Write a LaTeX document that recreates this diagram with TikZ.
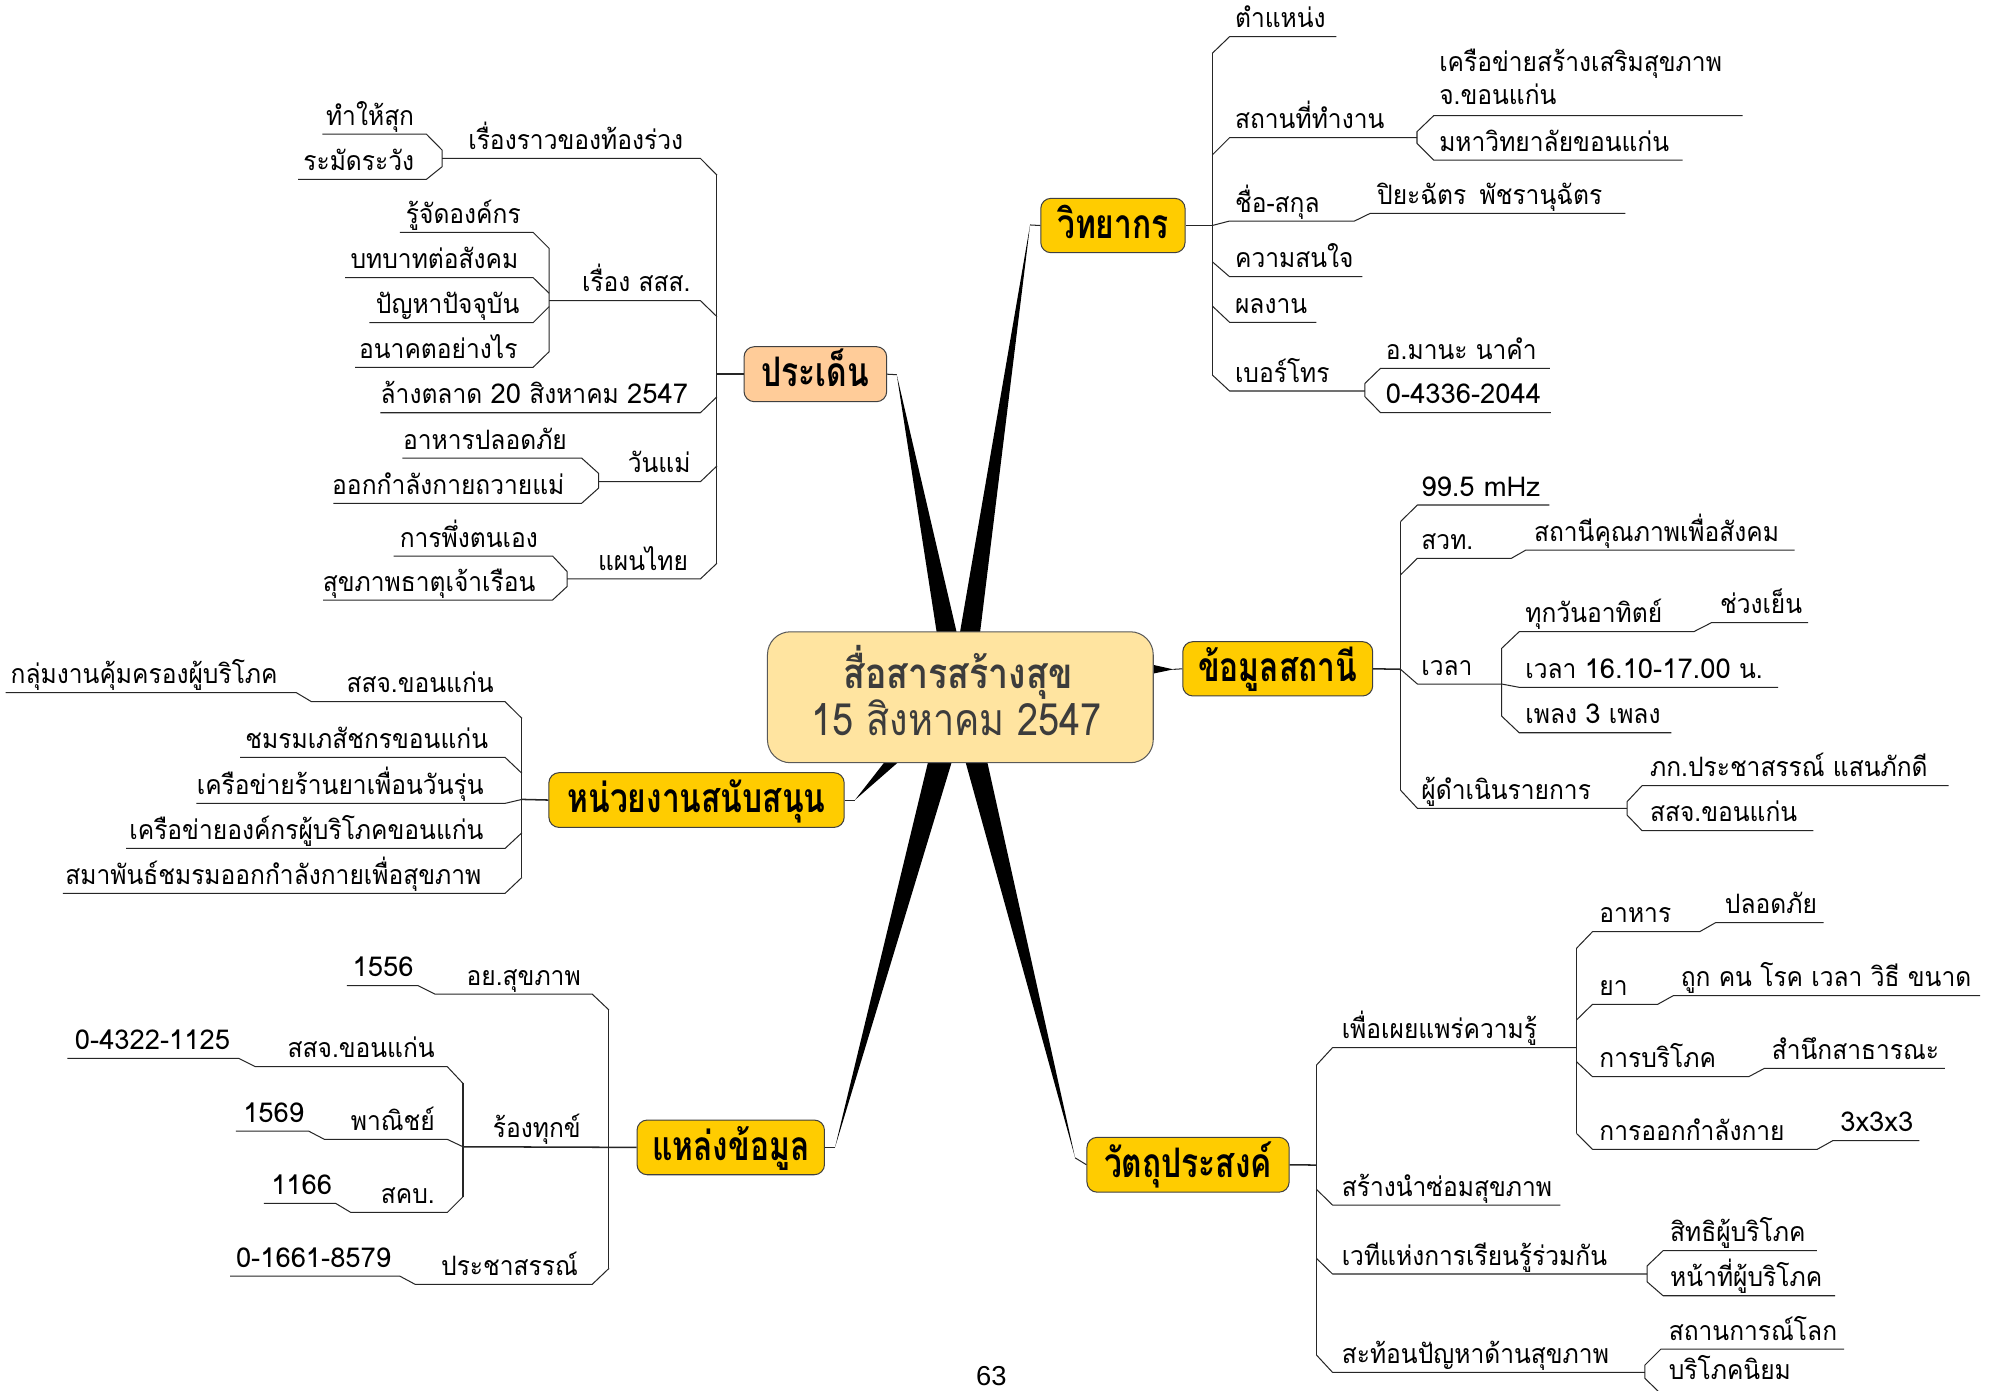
\documentclass[tikz,border=0pt]{standalone}
\usepackage{fontspec}
\newfontfamily\leaf[Script=Thai,FakeStretch=0.92]{Loma}
\newfontfamily\numff[Script=Thai]{Loma}
\newfontfamily\mainff[Script=Thai,FakeStretch=0.78]{Loma}
\newfontfamily\cenff[Script=Thai,FakeStretch=0.85]{Loma}
\newfontfamily\pagef{Liberation Sans}
\newcommand\lf{\leaf\fontsize{21}{24}\selectfont}
\newcommand\dg[1]{{\numff\fontsize{21.5}{24}\selectfont #1}}
\newcommand\mainf{\mainff\bfseries\fontsize{32}{36}\selectfont}
\newcommand\cenf{\cenff\fontsize{33}{38}\selectfont}
\newcommand\cenfb{\cenff\fontsize{35}{40}\selectfont}
\definecolor{gold}{HTML}{FFCC00}
\definecolor{peach}{HTML}{FFCC99}
\definecolor{cream}{HTML}{FFE4A0}
\definecolor{ctext}{HTML}{3C3C3C}
\tikzset{
  ln/.style={line width=0.8pt, draw=black!85, line join=round},
  ln2/.style={line width=1.2pt, draw=black!85},
  lfn/.style={font=\lf, inner sep=0pt, text=black},
  rt/.style={lfn, anchor=base west},
  lt/.style={lfn, anchor=base east},
  mbox/.style={draw=black!75, line width=0.8pt, rounded corners=8pt, fill=gold, font=\mainf,
    inner sep=0pt, text height=20pt, text depth=0pt},
  cbox/.style={draw=black!65, line width=0.8pt, rounded corners=18pt, fill=cream, inner sep=0pt},
  wedge/.style={fill=black, draw=none},
}
\newcommand\RT[4]{\node[rt] (#1) at (#2,{#3-7}) {#4};}
\newcommand\LT[4]{\node[lt] (#1) at (#2,{#3-7}) {#4};}
\begin{document}
\begin{tikzpicture}[x=1pt,y=-1pt]
\useasboundingbox (0,0) rectangle (1568,1093);
\fill[white] (0,0) rectangle (1568,1093);

% ---------- wedges ----------
\coordinate (tP) at (704.8,294.5);
\coordinate (tW) at (809.6,176.8);
\coordinate (tK) at (922.2,526.1);
\coordinate (tH) at (671.9,628.8);
\coordinate (tS) at (656.3,901.8);
\coordinate (tV) at (845,910);
\fill[wedge] (736.2,497) -- (751.9,497) -- (tP) -- cycle;
\fill[wedge] (754.5,497) -- (770.3,497) -- (tW) -- cycle;
\fill[wedge] (906,522.5) -- (906,529.5) -- (tK) -- cycle;
\fill[wedge] (695.2,599) -- (706,599) -- (tH) -- cycle;
\fill[wedge] (729.4,599) -- (748,599) -- (tS) -- cycle;
\fill[wedge] (758.9,599) -- (776,599) -- (tV) -- cycle;

% ---------- boxes ----------
\node[cbox, minimum width=303.2pt, minimum height=102.9pt] (C) at (754.8,548) {};
\node[anchor=base, font=\cenf\bfseries, text=ctext, inner sep=0pt] (C1) at (753,541) {สื่อสารสร้างสุข};
\node[anchor=base, font=\cenfb, text=ctext, inner sep=0pt] (C2) at (752,577.7) {15 สิงหาคม 2547};

\node[mbox, fill=peach, minimum width=112.1pt, minimum height=43.2pt] (P) at (640.85,294.1) {ประเด็น};
\node[mbox, minimum width=113.4pt, minimum height=42.7pt] (W) at (874.7,177.25) {วิทยากร};
\node[mbox, minimum width=149.3pt, minimum height=42.7pt] (K) at (1004.25,525.65) {ข้อมูลสถานี};
\node[mbox, minimum width=232.1pt, minimum height=43pt] (H) at (547.45,628.8) {หน่วยงานสนับสนุน};
\node[mbox, minimum width=147.3pt, minimum height=43pt] (S) at (574.35,901.8) {แหล่งข้อมูล};
\node[mbox, minimum width=158.9pt, minimum height=43.1pt] (V) at (933.75,915.45) {วัตถุประสงค์};

\draw[ln] (P.east) -- (tP);
\draw[ln] (W.west) -- (tW);
\draw[ln] (K.west) -- (tK);
\draw[ln] (H.east) -- (tH);
\draw[ln] (S.east) -- (tS);
\draw[ln] (V.west) -- (tV);

% ---------- ประเด็น ----------
\draw[ln2] (P.west) -- (563.5,294.1);
\draw[ln] (563.5,137.6) -- (563.5,442.7);
\draw[ln] (347.4,124.5) -- (550.5,124.5) -- (563.5,137.6);
\LT{p1}{537.1}{124.5}{เรื่องราวของท้องร่วง}
\draw[ln] (253.3,105.5) -- (335.2,105.5) -- (347.4,117.9) -- (347.4,131.1) -- (335.2,140.9) -- (234.3,140.9);
\LT{p1a}{325.7}{105.5}{ทำให้สุก}
\LT{p1b}{325.7}{140.9}{ระมัดระวัง}
\draw[ln] (431.6,236.3) -- (550.5,236.3) -- (563.5,248.9);
\LT{p2}{542.9}{236.3}{เรื่อง สสส.}
\draw[ln] (314.3,182.6) -- (419,182.6) -- (431.6,195.2) -- (431.6,276.4) -- (419,288.7) -- (279.2,288.7);
\draw[ln] (271.2,218.2) -- (419,218.2) -- (431.6,230.5);
\draw[ln] (290.3,253.6) -- (419,253.6) -- (431.6,241);
\LT{p2a}{409.5}{182.6}{รู้จัดองค์กร}
\LT{p2b}{407.6}{218.2}{บทบาทต่อสังคม}
\LT{p2c}{408.4}{253.6}{ปัญหาปัจจุบัน}
\LT{p2d}{406.9}{288.7}{อนาคตอย่างไร}
\draw[ln] (299,324.4) -- (550.5,324.4) -- (563.5,311.8);
\LT{p3}{541}{324.4}{ล้างตลาด \dg{20} สิงหาคม \dg{2547}}
\draw[ln] (470.5,378.6) -- (550.5,378.6) -- (563.5,366.2);
\LT{p4}{542.9}{378.6}{วันแม่}
\draw[ln] (316.2,360) -- (457.1,360) -- (470.5,372.1) -- (470.5,383.6) -- (457.1,395.6) -- (262.1,395.6);
\LT{p4a}{445.7}{360}{อาหารปลอดภัย}
\LT{p4b}{443.8}{395.6}{ออกกำลังกายถวายแม่}
\draw[ln] (445.7,455) -- (550.5,455) -- (563.5,442.7);
\LT{p5}{541}{455}{แผนไทย}
\draw[ln] (309.3,437) -- (434.3,437) -- (445.7,449.2) -- (445.7,461) -- (434.3,471.6) -- (254,471.6);
\LT{p5a}{422.9}{437}{การพึ่งตนเอง}
\LT{p5b}{421}{471.6}{สุขภาพธาตุเจ้าเรือน}

% ---------- วิทยากร ----------
\draw[ln2] (W.east) -- (952.8,177.25);
\draw[ln] (952.8,41.9) -- (952.8,294.7);
\draw[ln] (952.8,41.9) -- (966.4,28.8) -- (1050.3,28.8);
\RT{w1}{970.5}{28.8}{ตำแหน่ง}
\draw[ln] (952.8,121.8) -- (966.4,108.2) -- (1113.7,108.2);
\RT{w2}{970.5}{108.2}{สถานที่ทำงาน}
\draw[ln] (1369.6,90.9) -- (1126.8,90.9) -- (1113.7,103.5) -- (1113.7,112.7) -- (1126.8,125.8) -- (1322.5,125.8);
\node[rt] (w2a) at (1131,56.3) {เครือข่ายสร้างเสริมสุขภาพ};
\node[rt] (w2a2) at (1131,82.5) {จ.ขอนแก่น};
\RT{w2b}{1131}{125.8}{มหาวิทยาลัยขอนแก่น}
\draw[ln] (952.8,177.25) -- (966.4,173.7) -- (1064.6,173.7) -- (1076.9,167.7) -- (1277.5,167.7);
\RT{w3}{970.5}{173.7}{ชื่อ-สกุล}
\RT{w3a}{1082.2}{167.7}{ปิยะฉัตร\hspace{0.5em}พัชรานุฉัตร}
\draw[ln] (952.8,205.7) -- (966.4,217.5) -- (1070.7,217.5);
\RT{w4}{970.5}{217.5}{ความสนใจ}
\draw[ln] (952.8,240.5) -- (966.4,253.3) -- (1034.7,253.3);
\RT{w5}{970.5}{253.3}{ผลงาน}
\draw[ln] (952.8,294.7) -- (966.4,307.3) -- (1072.8,307.3);
\RT{w6}{970.5}{307.3}{เบอร์โทร}
\draw[ln] (1218.1,289.5) -- (1085,289.5) -- (1072.8,301.3) -- (1072.8,311.8) -- (1085,324.3) -- (1218.9,324.3);
\RT{w6a}{1089.1}{289.5}{อ.มานะ นาคำ}
\RT{w6b}{1089.1}{324.3}{\dg{0-4336-2044}}

% ---------- ข้อมูลสถานี ----------
\draw[ln2] (K.east) -- (1100.7,526);
\draw[ln] (1100.7,410) -- (1100.7,621);
\draw[ln] (1100.7,410) -- (1114,396.9) -- (1217.8,396.9);
\RT{k1}{1117}{396.9}{\dg{99.5 mHz}}
\draw[ln] (1100.7,451.9) -- (1114,438.8) -- (1187.9,438.8) -- (1199.3,432.3) -- (1410.4,432.3);
\RT{k2}{1117}{438.8}{สวท.}
\RT{k2a}{1205.5}{432.3}{สถานีคุณภาพเพื่อสังคม}
\draw[ln] (1100.7,526) -- (1114,537.6) -- (1180.2,537.6);
\RT{k3}{1117}{537.6}{เวลา}
\draw[ln] (1421.2,489.4) -- (1345.1,489.4) -- (1331.2,496.5) -- (1194,496.5) -- (1180.2,509.6) -- (1180.2,562.8) -- (1194,575.9) -- (1313.7,575.9);
\draw[ln] (1180.2,537.6) -- (1194,540.2) -- (1397.5,540.2);
\RT{k3a}{1198.7}{496.5}{ทุกวันอาทิตย์}
\RT{k3a1}{1351.7}{489.4}{ช่วงเย็น}
\RT{k3b}{1198.7}{540.2}{เวลา \dg{16.10-17.00} น.}
\RT{k3c}{1198.7}{575.9}{เพลง \dg{3} เพลง}
\draw[ln] (1100.7,621) -- (1114,635.3) -- (1278.8,635.3);
\RT{k4}{1117}{635.3}{ผู้ดำเนินรายการ}
\draw[ln] (1531.6,617.5) -- (1290.6,617.5) -- (1278.8,630.1) -- (1278.8,640.6) -- (1290.6,652.9) -- (1425.2,652.9);
\RT{k4a}{1296.7}{617.5}{ภก.ประชาสรรณ์ แสนภักดี}
\RT{k4b}{1296.7}{652.9}{สสจ.ขอนแก่น}

% ---------- หน่วยงานสนับสนุน ----------
\draw[ln2] (H.west) -- (410.2,628.3);
\draw[ln] (410.2,564.6) -- (410.2,689.6);
\draw[ln] (4.4,544.4) -- (232.9,544.4) -- (244.8,551.5) -- (397,551.5) -- (410.2,564.6);
\LT{h1}{388.2}{551.5}{สสจ.ขอนแก่น}
\LT{h1a}{218.4}{544.4}{กลุ่มงานคุ้มครองผู้บริโภค}
\draw[ln] (188.8,595.3) -- (397,595.3) -- (410.2,607.8);
\LT{h2}{383.8}{595.3}{ชมรมเภสัชกรขอนแก่น}
\draw[ln] (154.4,631.4) -- (397,631.4) -- (410.2,628.3);
\LT{h3}{380.2}{631.4}{เครือข่ายร้านยาเพื่อนวันรุ่น}
\draw[ln] (99.2,666.8) -- (397,666.8) -- (410.2,654.5);
\LT{h4}{380.2}{666.8}{เครือข่ายองค์กรผู้บริโภคขอนแก่น}
\draw[ln] (49.4,702.1) -- (397,702.1) -- (410.2,689.6);
\LT{h5}{378.5}{702.1}{สมาพันธ์ชมรมออกกำลังกายเพื่อสุขภาพ}

% ---------- แหล่งข้อมูล ----------
\draw[ln2] (S.west) -- (363.9,901.3);
\draw[ln] (478.6,793.8) -- (478.6,996.9);
\draw[ln] (272.6,774.7) -- (328.6,774.7) -- (341.9,781.3) -- (465.4,781.3) -- (478.6,793.8);
\LT{s1}{456.6}{781.3}{อย.สุขภาพ}
\RT{s1a}{277}{774.7}{\dg{1556}}
\LT{s2}{456.6}{901.3}{ร้องทุกข์}
\draw[ln] (363.9,851.5) -- (363.9,940.6);
\draw[ln] (52.9,831.8) -- (187.5,831.8) -- (200.7,838.4) -- (351.6,838.4) -- (363.9,851.5);
\LT{s2a}{341.9}{838.4}{สสจ.ขอนแก่น}
\RT{s2a1}{58.7}{831.8}{\dg{0-4322-1125}}
\draw[ln] (185.3,889) -- (242.6,889) -- (255,895.5) -- (351.6,895.5) -- (363.9,901.3);
\LT{s2b}{341.9}{895.5}{พาณิชย์}
\RT{s2b1}{191}{889}{\dg{1569}}
\draw[ln] (207.3,945.8) -- (263.8,945.8) -- (275.7,952.9) -- (351.6,952.9) -- (363.9,940.6);
\LT{s2c}{341.9}{952.9}{สคบ.}
\RT{s2c1}{213}{945.8}{\dg{1166}}
\draw[ln] (180.9,1002.9) -- (314.1,1002.9) -- (326.4,1009.5) -- (465.4,1009.5) -- (478.6,996.9);
\LT{s3}{454.4}{1009.5}{ประชาสรรณ์}
\RT{s3a}{185.3}{1002.9}{\dg{0-1661-8579}}

% ---------- วัตถุประสงค์ ----------
\draw[ln2] (V.east) -- (1034.7,915.7);
\draw[ln] (1034.7,837.1) -- (1034.7,1065);
\draw[ln] (1034.7,837.1) -- (1047.3,823.4) -- (1239,823.4);
\RT{v1}{1054.4}{823.4}{เพื่อเผยแพร่ความรู้}
\draw[ln] (1239,745.4) -- (1239,890.8);
\draw[ln] (1239,745.4) -- (1251.6,732.3) -- (1335.8,732.3) -- (1348.3,725.2) -- (1433.2,725.2);
\RT{v1a}{1256.9}{732.3}{อาหาร}
\RT{v1a1}{1355.5}{725.2}{ปลอดภัย}
\draw[ln] (1239,801.7) -- (1251.6,789.4) -- (1302.8,789.4) -- (1315,782.6) -- (1556.2,782.6);
\RT{v1b}{1256.9}{789.4}{ยา}
\RT{v1b1}{1320.8}{782.6}{ถูก คน โรค เวลา วิธี ขนาด}
\draw[ln] (1239,834.4) -- (1251.6,846.2) -- (1374.5,846.2) -- (1386.7,839.7) -- (1528.6,839.7);
\RT{v1c}{1256.9}{846.2}{การบริโภค}
\RT{v1c1}{1392.4}{839.7}{สำนึกสาธารณะ}
\draw[ln] (1239,890.8) -- (1251.6,903.3) -- (1428.3,903.3) -- (1440.5,896.5) -- (1508.5,896.5);
\RT{v1d}{1256.9}{903.3}{การออกกำลังกาย}
\RT{v1d1}{1446.2}{896.5}{\dg{3x3x3}}
\draw[ln] (1034.7,934.8) -- (1047.3,947.1) -- (1226.4,947.1);
\RT{v2}{1054.4}{947.1}{สร้างนำซ่อมสุขภาพ}
\draw[ln] (1034.7,989) -- (1047.3,1001.3) -- (1294.5,1001.3);
\RT{v3}{1054.4}{1001.3}{เวทีแห่งการเรียนรู้ร่วมกัน}
\draw[ln] (1427.9,983) -- (1307.1,983) -- (1294.5,995) -- (1294.5,1007.4) -- (1307.1,1018.4) -- (1442.3,1018.4);
\RT{v3a}{1312.5}{983}{สิทธิผู้บริโภค}
\RT{v3b}{1312.5}{1018.4}{หน้าที่ผู้บริโภค}
\draw[ln] (1034.7,1065) -- (1047.3,1078.6) -- (1292.8,1078.6);
\RT{v4}{1054.4}{1078.6}{สะท้อนปัญหาด้านสุขภาพ}
\draw[ln] (1449.3,1060.3) -- (1305.4,1060.3) -- (1292.8,1072.9) -- (1292.8,1083.3) -- (1305.4,1095.5) -- (1430,1095.5);
\RT{v4a}{1311.4}{1060.3}{สถานการณ์โลก}
\node[rt] (v4b) at (1311.4,1084.5) {บริโภคนิยม};

% page number
\node[anchor=base west, font=\pagef\fontsize{21.5}{24}\selectfont, inner sep=0pt] (pg) at (767,1089) {63};
\end{tikzpicture}
\end{document}
